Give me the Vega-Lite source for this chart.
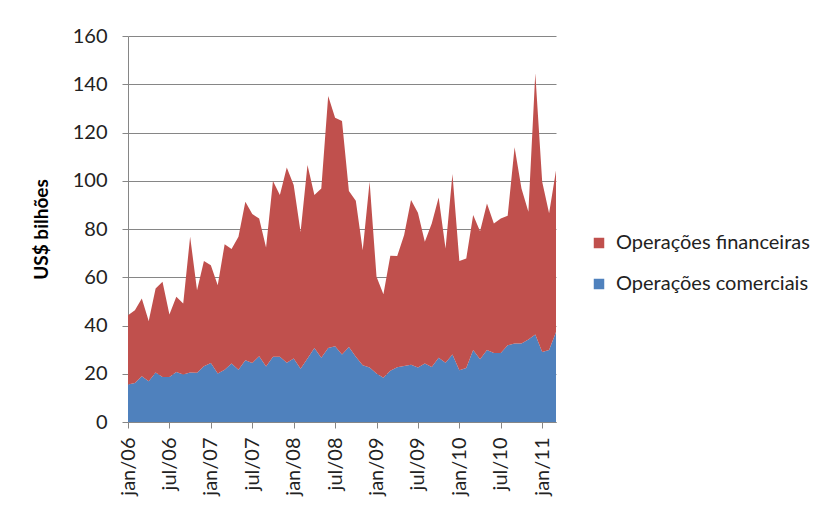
{
  "$schema": "https://vega.github.io/schema/vega-lite/v6.json",
  "width": 428,
  "height": 386,
  "autosize": {"type": "none"},
  "padding": {"left": 128, "top": 36, "right": 276, "bottom": 85},
  "background": "white",
  "config": {"view": {"stroke": null}, "font": "Lato"},
  "data": {"values": [
    {"mes": "jan/06", "comerciais": 15.5, "financeiras": 28.8},
    {"mes": "fev/06", "comerciais": 16.2, "financeiras": 30.1},
    {"mes": "mar/06", "comerciais": 19.0, "financeiras": 32.2},
    {"mes": "abr/06", "comerciais": 16.9, "financeiras": 25.0},
    {"mes": "mai/06", "comerciais": 20.5, "financeiras": 34.8},
    {"mes": "jun/06", "comerciais": 18.7, "financeiras": 39.4},
    {"mes": "jul/06", "comerciais": 18.7, "financeiras": 25.9},
    {"mes": "ago/06", "comerciais": 20.7, "financeiras": 31.2},
    {"mes": "set/06", "comerciais": 19.7, "financeiras": 29.4},
    {"mes": "out/06", "comerciais": 20.5, "financeiras": 56.3},
    {"mes": "nov/06", "comerciais": 20.4, "financeiras": 34.2},
    {"mes": "dez/06", "comerciais": 23.1, "financeiras": 43.6},
    {"mes": "jan/07", "comerciais": 24.5, "financeiras": 40.5},
    {"mes": "fev/07", "comerciais": 20.1, "financeiras": 36.6},
    {"mes": "mar/07", "comerciais": 21.7, "financeiras": 52.0},
    {"mes": "abr/07", "comerciais": 24.2, "financeiras": 47.5},
    {"mes": "mai/07", "comerciais": 21.7, "financeiras": 55.1},
    {"mes": "jun/07", "comerciais": 25.6, "financeiras": 65.7},
    {"mes": "jul/07", "comerciais": 24.5, "financeiras": 61.7},
    {"mes": "ago/07", "comerciais": 27.3, "financeiras": 57.1},
    {"mes": "set/07", "comerciais": 23.0, "financeiras": 49.3},
    {"mes": "out/07", "comerciais": 27.0, "financeiras": 72.9},
    {"mes": "nov/07", "comerciais": 27.0, "financeiras": 67.1},
    {"mes": "dez/07", "comerciais": 24.6, "financeiras": 80.9},
    {"mes": "jan/08", "comerciais": 26.3, "financeiras": 71.9},
    {"mes": "fev/08", "comerciais": 22.1, "financeiras": 56.7},
    {"mes": "mar/08", "comerciais": 26.3, "financeiras": 80.2},
    {"mes": "abr/08", "comerciais": 30.7, "financeiras": 63.4},
    {"mes": "mai/08", "comerciais": 26.6, "financeiras": 70.2},
    {"mes": "jun/08", "comerciais": 30.7, "financeiras": 104.4},
    {"mes": "jul/08", "comerciais": 31.4, "financeiras": 94.7},
    {"mes": "ago/08", "comerciais": 28.0, "financeiras": 96.8},
    {"mes": "set/08", "comerciais": 31.1, "financeiras": 64.6},
    {"mes": "out/08", "comerciais": 27.0, "financeiras": 64.7},
    {"mes": "nov/08", "comerciais": 23.5, "financeiras": 47.7},
    {"mes": "dez/08", "comerciais": 22.6, "financeiras": 77.0},
    {"mes": "jan/09", "comerciais": 20.1, "financeiras": 40.1},
    {"mes": "fev/09", "comerciais": 18.3, "financeiras": 34.7},
    {"mes": "mar/09", "comerciais": 21.2, "financeiras": 47.7},
    {"mes": "abr/09", "comerciais": 22.7, "financeiras": 46.1},
    {"mes": "mai/09", "comerciais": 23.2, "financeiras": 54.3},
    {"mes": "jun/09", "comerciais": 23.7, "financeiras": 68.3},
    {"mes": "jul/09", "comerciais": 22.6, "financeiras": 64.1},
    {"mes": "ago/09", "comerciais": 24.2, "financeiras": 50.5},
    {"mes": "set/09", "comerciais": 22.8, "financeiras": 59.5},
    {"mes": "out/09", "comerciais": 26.6, "financeiras": 66.5},
    {"mes": "nov/09", "comerciais": 24.6, "financeiras": 47.3},
    {"mes": "dez/09", "comerciais": 28.0, "financeiras": 74.8},
    {"mes": "jan/10", "comerciais": 21.5, "financeiras": 45.2},
    {"mes": "fev/10", "comerciais": 22.4, "financeiras": 45.4},
    {"mes": "mar/10", "comerciais": 29.8, "financeiras": 56.0},
    {"mes": "abr/10", "comerciais": 26.0, "financeiras": 53.1},
    {"mes": "mai/10", "comerciais": 29.8, "financeiras": 60.8},
    {"mes": "jun/10", "comerciais": 28.6, "financeiras": 53.7},
    {"mes": "jul/10", "comerciais": 28.6, "financeiras": 55.8},
    {"mes": "ago/10", "comerciais": 31.8, "financeiras": 53.7},
    {"mes": "set/10", "comerciais": 32.5, "financeiras": 81.4},
    {"mes": "out/10", "comerciais": 32.5, "financeiras": 64.3},
    {"mes": "nov/10", "comerciais": 34.2, "financeiras": 52.9},
    {"mes": "dez/10", "comerciais": 36.3, "financeiras": 108.3},
    {"mes": "jan/11", "comerciais": 29.0, "financeiras": 70.6},
    {"mes": "fev/11", "comerciais": 29.8, "financeiras": 56.7},
    {"mes": "mar/11", "comerciais": 37.3, "financeiras": 66.9}
  ]},
  "transform": [
    {"fold": ["comerciais", "financeiras"], "as": ["chave", "valor"]},
    {"calculate": "datum.chave === 'comerciais' ? 'Operações comerciais' : 'Operações financeiras'", "as": "serie"},
    {"calculate": "datum.chave === 'comerciais' ? 0 : 1", "as": "ordem"}
  ],
  "mark": {"type": "area", "interpolate": "linear"},
  "encoding": {
    "x": {
      "field": "mes",
      "type": "ordinal",
      "sort": null,
      "scale": {"type": "point", "padding": 0},
      "axis": {
        "values": ["jan/06", "jul/06", "jan/07", "jul/07", "jan/08", "jul/08", "jan/09", "jul/09", "jan/10", "jul/10", "jan/11"],
        "title": null,
        "labelAngle": -90,
        "labelFont": "Lato",
        "labelFontSize": 20,
        "labelColor": "#222222",
        "labelPadding": 9,
        "tickSize": 6,
        "tickColor": "#868686",
        "domainColor": "#868686",
        "grid": false
      }
    },
    "y": {
      "field": "valor",
      "type": "quantitative",
      "stack": "zero",
      "scale": {"domain": [0, 160], "nice": false},
      "axis": {
        "values": [0, 20, 40, 60, 80, 100, 120, 140, 160],
        "title": "US$ bilhões",
        "titleFont": "Lato",
        "titleFontSize": 19,
        "titleFontWeight": "bold",
        "titleColor": "#000000",
        "titlePadding": 21,
        "labelFont": "Lato",
        "labelFontSize": 20,
        "labelColor": "#222222",
        "labelPadding": 15,
        "tickSize": 6,
        "tickColor": "#868686",
        "domainColor": "#868686",
        "grid": true,
        "gridColor": "#868686",
        "gridWidth": 1
      }
    },
    "color": {
      "field": "serie",
      "type": "nominal",
      "scale": {"domain": ["Operações financeiras", "Operações comerciais"], "range": ["#C0504D", "#4F81BD"]},
      "legend": {
        "orient": "none",
        "legendX": 461,
        "legendY": 197,
        "title": null,
        "symbolType": "square",
        "symbolSize": 110,
        "symbolStrokeWidth": 0,
        "labelFont": "Lato",
        "labelFontSize": 20,
        "labelColor": "#222222",
        "labelOffset": 7,
        "labelLimit": 0,
        "rowPadding": 21,
        "padding": 0
      }
    },
    "order": {"field": "ordem", "type": "quantitative"}
  }
}
